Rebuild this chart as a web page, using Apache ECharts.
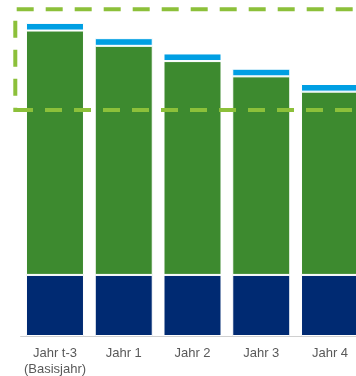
<!DOCTYPE html>
<html>
<head>
<meta charset="utf-8">
<script src="https://cdn.jsdelivr.net/npm/echarts@6/dist/echarts.min.js"></script>
<style>
  html, body { margin: 0; padding: 0; background: #fff; }
  #chart { width: 356px; height: 376px; }
</style>
</head>
<body>
<div id="chart"></div>
<script>
// Emission stack per year
const categories = ['Jahr t-3\n(Basisjahr)', 'Jahr 1', 'Jahr 2', 'Jahr 3', 'Jahr 4'];
const baseValues = [20, 20, 20, 20, 20];
const mainValues = [80, 75, 70, 65, 60];
const topValues = [2.5, 2.5, 2.5, 2.5, 2.5];
// Target corridor (upper and lower bound)
const corridorUpper = 107;
const corridorLower = 74;

const chart = echarts.init(document.getElementById('chart'));

const segStyle = (color) => ({ color: color, borderColor: '#ffffff', borderWidth: 1 });

chart.setOption({
  animation: false,
  grid: { left: 20.6, width: 343.8, top: 0, bottom: 40, outerBoundsMode: 'none', containLabel: false },
  xAxis: {
    type: 'category',
    data: categories,
    axisLine: { lineStyle: { color: '#d0d0d0', width: 1 } },
    axisTick: { show: false },
    axisLabel: {
      color: '#595959', fontSize: 13, fontFamily: 'Liberation Sans, Arial, sans-serif',
      margin: 9, lineHeight: 16, interval: 0
    }
  },
  yAxis: {
    type: 'value', min: 0, max: 110,
    show: false, splitLine: { show: false }
  },
  series: [
    { type: 'bar', stack: 's', data: baseValues, barWidth: 58, itemStyle: segStyle('#002a72') },
    { type: 'bar', stack: 's', data: mainValues, barWidth: 58, itemStyle: segStyle('#3d8a2f') },
    { type: 'bar', stack: 's', data: topValues, barWidth: 58, itemStyle: segStyle('#009fe3') }
  ]
});

// Dashed corridor outline, placed on the value scale
const yTop = chart.convertToPixel({ yAxisIndex: 0 }, corridorUpper);
const yBot = chart.convertToPixel({ yAxisIndex: 0 }, corridorLower);
const edge = (x1, y1, x2, y2) => ({
  type: 'polyline', silent: true, z: 100,
  shape: { points: [[x1, y1], [x2, y2]] },
  style: { stroke: '#8cc03a', lineWidth: 4, fill: null, lineDash: [17, 12] }
});
chart.setOption({
  graphic: [
    edge(16.7, yTop, 370, yTop),
    edge(15.3, yTop + 11.5, 15.3, yBot + 2),
    edge(16, yBot, 370, yBot)
  ]
});
</script>
</body>
</html>
